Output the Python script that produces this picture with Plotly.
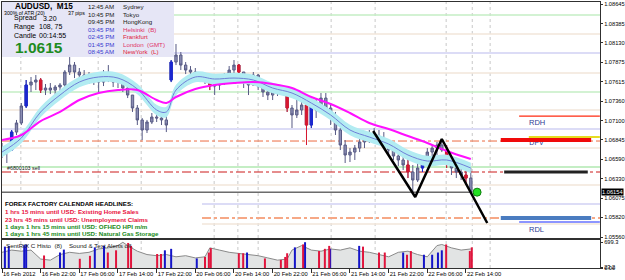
import plotly.graph_objects as go

W, H = 625, 280

# ---------------- data ----------------
hours = list(range(98))
bar_open = [1.06738, 1.06685, 1.06712, 1.06950, 1.07070, 1.07295, 1.07573, 1.07612, 1.07639, 1.07506,
            1.07533, 1.07506, 1.07546, 1.07573, 1.07745, 1.07837, 1.07745, 1.07705, 1.07665, 1.07692,
            1.07639, 1.07612, 1.07705, 1.07665, 1.07612, 1.07639, 1.07533, 1.07440, 1.07268, 1.07110,
            1.06977, 1.07083, 1.07149, 1.07136, 1.07110, 1.07639, 1.07877, 1.07970, 1.07837, 1.07771,
            1.07745, 1.07718, 1.07665, 1.07639, 1.07559, 1.07573, 1.07639, 1.07665, 1.07771, 1.07837,
            1.07745, 1.07612, 1.07573, 1.07705, 1.07559, 1.07480, 1.07440, 1.07480, 1.07506, 1.07480,
            1.07268, 1.07176, 1.07242, 1.07308, 1.07043, 1.07308, 1.07242, 1.07400, 1.07268, 1.07136,
            1.06977, 1.06778, 1.06646, 1.06685, 1.06738, 1.06818, 1.06884, 1.06924, 1.06897, 1.06844,
            1.06791, 1.06712, 1.06633, 1.06580, 1.06514, 1.06421, 1.06315, 1.06474, 1.06606, 1.06685,
            1.06738, 1.06778, 1.06712, 1.06553, 1.06474, 1.06421, 1.06381, 1.06341]
bar_high = [1.06805, 1.06752, 1.06977, 1.07110, 1.07334, 1.07639, 1.07679, 1.07705, 1.07665, 1.07586,
            1.07599, 1.07573, 1.07599, 1.07771, 1.07943, 1.07877, 1.07798, 1.07771, 1.07745, 1.07732,
            1.07718, 1.07771, 1.07837, 1.07732, 1.07705, 1.07665, 1.07612, 1.07440, 1.07308, 1.07136,
            1.07110, 1.07202, 1.07216, 1.07216, 1.07189, 1.07904, 1.08116, 1.08010, 1.07877, 1.07824,
            1.07798, 1.07745, 1.07732, 1.07692, 1.07639, 1.07679, 1.07732, 1.07824, 1.07904, 1.07851,
            1.07745, 1.07665, 1.07745, 1.07718, 1.07586, 1.07533, 1.07520, 1.07546, 1.07559, 1.07506,
            1.07308, 1.07374, 1.07400, 1.07374, 1.07400, 1.07400, 1.07467, 1.07467, 1.07308, 1.07216,
            1.07003, 1.06844, 1.06738, 1.06778, 1.06871, 1.06924, 1.06977, 1.07003, 1.06977, 1.06950,
            1.06844, 1.06778, 1.06712, 1.06685, 1.06712, 1.06514, 1.06580, 1.06646, 1.06738, 1.06778,
            1.06818, 1.06858, 1.06778, 1.06646, 1.06580, 1.06514, 1.06514, 1.06474]
bar_low = [1.06606, 1.06540, 1.06712, 1.06911, 1.07043, 1.07268, 1.07480, 1.07506, 1.07467, 1.07440,
           1.07453, 1.07440, 1.07467, 1.07506, 1.07705, 1.07665, 1.07612, 1.07599, 1.07586, 1.07573,
           1.07467, 1.07559, 1.07612, 1.07546, 1.07533, 1.07480, 1.07400, 1.07216, 1.07043, 1.06844,
           1.06937, 1.07056, 1.07083, 1.07043, 1.06950, 1.07612, 1.07837, 1.07771, 1.07718, 1.07692,
           1.07665, 1.07612, 1.07586, 1.07506, 1.07440, 1.07506, 1.07573, 1.07639, 1.07718, 1.07665,
           1.07533, 1.07440, 1.07573, 1.07506, 1.07414, 1.07374, 1.07374, 1.07427, 1.07440, 1.07216,
           1.07003, 1.07136, 1.07176, 1.06778, 1.07003, 1.07136, 1.07242, 1.07216, 1.07043, 1.06911,
           1.06712, 1.06540, 1.06553, 1.06580, 1.06685, 1.06738, 1.06805, 1.06818, 1.06778, 1.06738,
           1.06633, 1.06580, 1.06500, 1.06447, 1.06341, 1.06156, 1.06288, 1.06421, 1.06553, 1.06606,
           1.06646, 1.06685, 1.06474, 1.06381, 1.06341, 1.06315, 1.06249, 1.06143]
bar_close = [1.06685, 1.06712, 1.06950, 1.07070, 1.07295, 1.07573, 1.07612, 1.07639, 1.07506, 1.07533,
             1.07506, 1.07546, 1.07573, 1.07745, 1.07837, 1.07745, 1.07705, 1.07665, 1.07692, 1.07639,
             1.07612, 1.07705, 1.07665, 1.07612, 1.07639, 1.07533, 1.07440, 1.07268, 1.07110, 1.06977,
             1.07083, 1.07149, 1.07136, 1.07110, 1.07043, 1.07877, 1.07970, 1.07837, 1.07771, 1.07745,
             1.07718, 1.07665, 1.07639, 1.07559, 1.07573, 1.07639, 1.07665, 1.07771, 1.07837, 1.07745,
             1.07612, 1.07573, 1.07705, 1.07559, 1.07480, 1.07440, 1.07480, 1.07506, 1.07480, 1.07268,
             1.07176, 1.07242, 1.07308, 1.07043, 1.07308, 1.07242, 1.07400, 1.07268, 1.07136, 1.06977,
             1.06778, 1.06646, 1.06685, 1.06738, 1.06818, 1.06884, 1.06924, 1.06897, 1.06844, 1.06791,
             1.06712, 1.06633, 1.06580, 1.06514, 1.06421, 1.06315, 1.06474, 1.06606, 1.06685, 1.06738,
             1.06778, 1.06712, 1.06553, 1.06474, 1.06421, 1.06381, 1.06341, 1.06154]
# candles that the chart paints in signal colours
blue_bars = [2, 5, 35, 64, 87]
red_bars = [8, 43, 49, 59, 63, 84, 92, 96]

ma_hours = [0, 4, 8, 12, 16, 20, 24, 28, 32, 34, 36, 40, 44, 48, 52, 56, 60, 64, 68, 72, 76, 80, 84, 88, 92, 97]
ma_slow = [1.06844, 1.06911, 1.07096, 1.07216, 1.07374, 1.07467, 1.07506, 1.07506, 1.07374, 1.07334,
           1.07414, 1.07520, 1.07573, 1.07599, 1.07612, 1.07586, 1.07533, 1.07414, 1.07321, 1.07202,
           1.07070, 1.06990, 1.06897, 1.06805, 1.06699, 1.06593]
ma_fast = [1.06685, 1.06871, 1.07216, 1.07440, 1.07612, 1.07679, 1.07665, 1.07520, 1.07242, 1.07216,
           1.07506, 1.07679, 1.07652, 1.07665, 1.07639, 1.07533, 1.07467, 1.07334, 1.07176, 1.06977,
           1.06884, 1.06791, 1.06646, 1.06566, 1.06580, 1.06474]
band_half = 0.0007

ind_hours = [0, 2, 4, 6, 8, 10, 12, 14, 16, 18, 20, 22, 24, 25, 26, 28, 30, 32, 34, 36, 38, 40, 42, 43, 45, 47,
             49, 51, 53, 55, 57, 59, 60, 62, 64, 66, 68, 70, 72, 74, 76, 78, 80, 82, 84, 86, 88, 90, 91, 93, 95, 97]
ind_values = [426, 486, 456, 486, 243, 213, 365, 426, 395, 426, 517, 547, 608, 699, 608, 456, 365, 334, 365, 304,
              334, 274, 304, 547, 486, 426, 395, 365, 334, 274, 213, 243, 486, 608, 486, 456, 517, 486, 547, 456,
              426, 365, 304, 426, 456, 365, 304, 608, 638, 547, 486, 517]
hist_blue_h = [0.6, 1.4, 4.6, 5.0, 12.0, 12.8, 19.2, 21.1, 33.7, 35.0, 40.3, 50.7, 60.6, 62.7, 67.9, 73.9,
               83.0, 87.3, 89.0, 90.2, 91.0]
hist_blue_v = [580, 600, 620, 640, 420, 500, 560, 600, 480, 520, 260, 420, 560, 700, 520, 600, 420, 360, 360, 420, 480]
hist_red_h = [8.7, 16.1, 18.2, 21.9, 23.6, 26.1, 26.7, 32.1, 32.9, 42.0, 42.8, 43.2, 49.0, 49.9, 54.4, 57.7,
              58.6, 59.0, 62.3, 65.6, 66.8, 67.7, 74.7, 78.0, 79.2, 83.8, 84.6, 91.9, 96.8, 97.2]
hist_red_v = [340, 250, 330, 420, 480, 680, 600, 380, 380, 300, 420, 540, 400, 400, 260, 220, 300, 400, 640, 460,
              520, 600, 580, 420, 420, 360, 460, 640, 460, 560]

zigzag_h = [76.8, 85.5, 91.0, 100.4]
zigzag_p = [1.06964, 1.06090, 1.06858, 1.05746]

price_ticks = [1.08645, 1.08385, 1.08130, 1.07875, 1.07615, 1.07360, 1.07100, 1.06845, 1.06590,
               1.06330, 1.06075, 1.05820, 1.05560]
time_tick_hours = [0, 8, 16, 24, 32, 40, 48, 56, 64, 72, 80, 88, 96]
time_labels = ["16 Feb 2012", "16 Feb 22:00", "17 Feb 06:00", "17 Feb 14:00", "17 Feb 22:00",
               "20 Feb 06:00", "20 Feb 14:00", "20 Feb 22:00", "21 Feb 06:00", "21 Feb 14:00",
               "21 Feb 22:00", "22 Feb 06:00", "22 Feb 14:00"]
current_price = 1.06154
grid_hours = [3.9, 19.9, 28.8, 43.9, 48.8, 53.0, 68.1, 77.2, 91.9, 97.3, 101.0]

# horizontal levels: price, colour, dash, width, starts after headline box
levels = [
    (1.08499, "#c4eec4", "solid", 1.5, False),
    (1.08248, "#f2e6da", "solid", 1.5, False),
    (1.07996, "#dcdcf6", "solid", 2, False),
    (1.07731, "#f2e6da", "solid", 1.5, False),
    (1.07480, "#c4eec4", "solid", 1.5, False),
    (1.07242, "#f2e6da", "solid", 1.5, False),
    (1.06990, "#dcdcf6", "solid", 2, False),
    (1.06831, "#ec6a40", "dashdot", 1, False),
    (1.06738, "#f2e6da", "solid", 1.5, False),
    (1.06487, "#c4eec4", "solid", 2, False),
    (1.06421, "#cc1a1a", "dashdot", 1, False),
    (1.06249, "#f2e6da", "solid", 1.5, False),
    (1.05997, "#dcdcf6", "solid", 2, True),
    (1.05812, "#f6a886", "dashdot", 2, True),
    (1.05732, "#f2e6da", "solid", 1.5, True),
]
# pivot segments: price, h0, h1, colour, width
pivots = [
    (1.07162, 107.0, 123.7, "#ff2a10", 1.2),
    (1.06884, 109.0, 123.7, "#e6dc20", 2),
    (1.06844, 103.2, 121.9, "#f00a0a", 4),
    (1.06421, 103.9, 121.2, "#222222", 3),
    (1.05812, 103.2, 121.9, "#4a7cc0", 4),
    (1.05759, 107.0, 123.7, "#1a2cff", 1.2),
]

# ---------------- layout geometry ----------------
X0, X1 = 2 / W, 600 / W
XR = [0, 123.73]
main_dom = [1 - 238 / H, 1 - 2 / H]
ind_dom = [1 - 268 / H, 1 - 240 / H]
FONT = "Liberation Sans, Arial, sans-serif"


def px(x):
    return x / W


def py(y):
    return 1 - y / H


fig = go.Figure()

upper = [m + band_half for m in ma_fast]
lower = [m - band_half for m in ma_fast]
fig.add_trace(go.Scatter(x=ma_hours, y=upper, mode="lines", line=dict(color="#aeeaf0", width=0, shape="spline"),
                         hoverinfo="skip"))
fig.add_trace(go.Scatter(x=ma_hours, y=lower, mode="lines", line=dict(color="#aeeaf0", width=0, shape="spline"),
                         fill="tonexty", fillcolor="#b2ecf2", hoverinfo="skip"))

fig.add_trace(go.Candlestick(x=hours, open=bar_open, high=bar_high, low=bar_low, close=bar_close,
                             increasing=dict(line=dict(color="#575a84", width=1), fillcolor="#8c8eb4"),
                             decreasing=dict(line=dict(color="#575a84", width=1), fillcolor="#8c8eb4"),
                             whiskerwidth=0, xaxis="x", yaxis="y"))


def subset(idx):
    return dict(x=[hours[i] for i in idx], open=[bar_open[i] for i in idx], high=[bar_high[i] for i in idx],
                low=[bar_low[i] for i in idx], close=[bar_close[i] for i in idx])


for idx, col in ((blue_bars, "#1c28d0"), (red_bars, "#d81830")):
    fig.add_trace(go.Candlestick(**subset(idx),
                                 increasing=dict(line=dict(color=col, width=1), fillcolor=col),
                                 decreasing=dict(line=dict(color=col, width=1), fillcolor=col),
                                 whiskerwidth=0, xaxis="x", yaxis="y"))

fig.add_trace(go.Scatter(x=ma_hours, y=ma_fast, mode="lines", line=dict(color="#6f7fd8", width=1, shape="spline")))
fig.add_trace(go.Scatter(x=ma_hours, y=ma_slow, mode="lines", line=dict(color="#ff10ff", width=2, shape="spline")))

fig.add_trace(go.Scatter(x=zigzag_h, y=zigzag_p, mode="lines", line=dict(color="black", width=2.5)))
fig.add_trace(go.Scatter(x=[98.3], y=[current_price], mode="markers",
                         marker=dict(color="#22e022", size=8, line=dict(color="#108010", width=1))))
fig.add_trace(go.Scatter(x=[110.6], y=[1.06805], mode="text", text=["DPV"],
                         textfont=dict(size=7, color="#303c90", family=FONT)))

# indicator panel
fig.add_trace(go.Scatter(x=ind_hours, y=ind_values, mode="lines", line=dict(color="#8a8a8a", width=1),
                         fill="tozeroy", fillcolor="#e2e4e4", xaxis="x2", yaxis="y2"))


def stems(hs, vs):
    xs, ys = [], []
    for h, v in zip(hs, vs):
        xs += [h, h, None]
        ys += [0, v, None]
    return xs, ys


for hs, vs, col in ((hist_blue_h, hist_blue_v, "#1414c8"), (hist_red_h, hist_red_v, "#e0143c")):
    sx, sy = stems(hs, vs)
    fig.add_trace(go.Scatter(x=sx, y=sy, mode="lines", line=dict(color=col, width=2), xaxis="x2", yaxis="y2"))

shapes = []
for g in grid_hours:
    shapes.append(dict(type="line", xref="x", yref="paper", x0=g, x1=g, y0=ind_dom[0], y1=main_dom[1],
                       line=dict(color="#c8c8c8", width=1, dash="dot"), layer="below"))
box_frac = (202 - 2) / 598
for price, col, dash, wd, partial in levels:
    shapes.append(dict(type="line", xref="x domain", yref="y", x0=box_frac if partial else 0, x1=1,
                       y0=price, y1=price, line=dict(color=col, width=wd, dash=dash), layer="below"))
# headline backdrop
shapes.append(dict(type="rect", xref="paper", yref="paper", x0=px(2), x1=px(202), y0=py(238), y1=py(193),
                   fillcolor="white", line=dict(width=0), layer="below"))
shapes.append(dict(type="line", xref="x", yref="y", x0=0, x1=97.3, y0=current_price, y1=current_price,
                   line=dict(color="#202020", width=1), layer="below"))
for price, h0, h1, col, wd in pivots:
    shapes.append(dict(type="line", xref="x", yref="y", x0=h0, x1=h1, y0=price, y1=price,
                       line=dict(color=col, width=wd), layer="above"))
# info box
shapes.append(dict(type="rect", xref="paper", yref="paper", x0=px(2), x1=px(174), y0=py(57), y1=py(2),
                   fillcolor="#e6e6f6", line=dict(width=0), layer="above"))


def ann(text, x, y, size=7, color="black", bold=False, xanchor="left"):
    return dict(text=f"<b>{text}</b>" if bold else text, x=px(x), y=py(y), xref="paper", yref="paper",
                xanchor=xanchor, yanchor="middle", showarrow=False,
                font=dict(size=size, color=color, family=FONT))


anns = [
    ann("AUDUSD,  M15", 13, 6.5, 8.2, bold=True),
    ann("300% of ATR (20)", 2, 12.8, 5.2),
    ann("37 pips", 66, 12.8, 5.2),
    ann("Spread", 12, 18.5, 7), ann("3.20", 41, 18.5, 7),
    ann("Range", 12, 26.8, 7), ann("108, 75", 37, 26.8, 7),
    ann("Candle", 12, 35, 7), ann("00:14:55", 37, 35, 7),
    ann("1.0615", 13, 47.5, 15.5, color="#1e8c1e", bold=True),
]
sess_times = ["12:45 AM", "10:45 PM", "09:45 PM", "03:45 PM", "02:45 PM", "01:45 PM", "08:45 AM"]
sess_names = ["Sydney", "Tokyo", "HongKong", "Helsinki  (B)", "Frankfurt", "London  (GMT)", "NewYork  (L)"]
sess_rows = [6.7, 14.3, 22.0, 29.3, 36.7, 44.0, 51.3]
for i, (t, n, r) in enumerate(zip(sess_times, sess_names, sess_rows)):
    tc = "#202020" if i < 3 else "#3a3ad0"
    nc = "#202020" if i < 3 else ("#e0203a" if i in (4, 6) else "#e0306a")
    anns.append(ann(t, 86, r, 6.2, tc))
    anns.append(ann(n, 121, r, 6.2, nc))

anns.append(ann("#6800103 sell", 5, 168, 5.3, "#202020"))
anns.append(ann("FOREX FACTORY CALENDAR HEADLINES:", 3, 203, 6.2, bold=True))
head_lines = ["1 hrs 15 mins until USD: Existing Home Sales",
              "23 hrs 45 mins until USD: Unemployment Claims",
              "1 days 1 hrs 15 mins until USD: OFHEO HPI m/m",
              "1 days 1 hrs 45 mins until USD: Natural Gas Storage"]
head_cols = ["#e8103c", "#e8103c", "#188a18", "#188a18"]
for line, col, r in zip(head_lines, head_cols, [211.7, 219.0, 226.3, 233.2]):
    anns.append(ann(line, 3, r, 6.2, col, bold=True))
anns.append(ann("SentRIX C Histo  (8)    Sound & Text Alerts off.", 4, 245.5, 6.2, "#202020"))
anns.append(dict(text="RDH", x=108.6, y=1.07083, xref="x", yref="y", xanchor="left", yanchor="middle",
                 showarrow=False, font=dict(size=7.5, color="#2c3c94", family=FONT)))
anns.append(dict(text="RDL", x=108.6, y=1.05666, xref="x", yref="y", xanchor="left", yanchor="middle",
                 showarrow=False, font=dict(size=7.5, color="#2c3c94", family=FONT)))
anns.append(dict(text="1.06154", x=px(601), y=current_price, xref="paper", yref="y", xanchor="left",
                 yanchor="middle", showarrow=False, bgcolor="black", borderpad=0,
                 font=dict(size=5.7, color="white", family=FONT)))

axis_common = dict(showgrid=False, zeroline=False, showline=True, mirror=True, linecolor="#303030", linewidth=1)
fig.update_layout(
    width=W, height=H, margin=dict(l=0, r=0, t=0, b=0), showlegend=False,
    paper_bgcolor="white", plot_bgcolor="white",
    font=dict(family=FONT, size=7, color="black"),
    xaxis=dict(domain=[X0, X1], range=XR, showticklabels=False, ticks="", rangeslider=dict(visible=False),
               **axis_common),
    yaxis=dict(domain=main_dom, range=[1.05547, 1.08672], side="right", tickvals=price_ticks,
               ticktext=[f"{v:.5f}" for v in price_ticks], ticks="outside", ticklen=2, tickcolor="#303030",
               tickfont=dict(size=5.7, family=FONT), automargin=False, **axis_common),
    xaxis2=dict(domain=[X0, X1], anchor="y2", range=XR, tickvals=time_tick_hours, ticktext=time_labels,
                ticks="outside", ticklen=4, tickcolor="#303030", ticklabelposition="outside right",
                tickangle=0, tickfont=dict(size=5.8, family=FONT), automargin=False, **axis_common),
    yaxis2=dict(domain=ind_dom, anchor="x2", range=[0, 760], side="right", tickvals=[699.3, 23.2, 0],
                ticktext=["699.3", "23.2", "0.00"], ticks="outside", ticklen=2, tickcolor="#303030",
                tickfont=dict(size=5.7, family=FONT), automargin=False, **axis_common),
    shapes=shapes, annotations=anns,
)

fig.write_html("out.html")
